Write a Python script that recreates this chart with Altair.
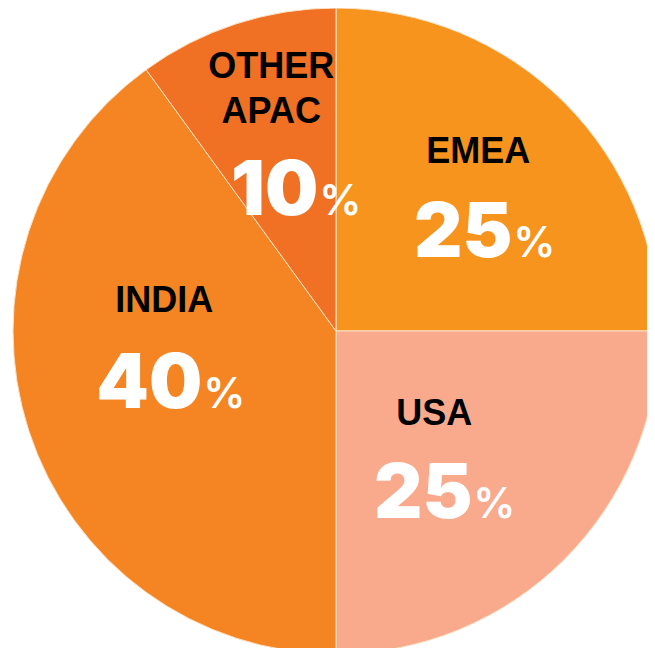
import altair as alt
import pandas as pd

categories = ["EMEA", "USA", "INDIA", "OTHER APAC"]
label_text = ["EMEA", "USA", "INDIA", "OTHER\nAPAC"]
shares = [25, 25, 40, 10]
share_text = ["25", "25", "40", "10"]
colors = ["#F7941E", "#F9AA8D", "#F48522", "#F07124"]

df = pd.DataFrame({
    "category": categories,
    "label": label_text,
    "share": shares,
    "num": share_text,
    "pct": ["%"] * len(categories),
    "idx": list(range(len(categories))),
})

CX, CY, R = 328, 323, 323
LR = 190  # anchor radius for labels

label_off = {"EMEA": (8, -34), "USA": (-36, -40), "INDIA": (9, -78), "OTHER APAC": (-6, -72)}
num_off = {"EMEA": (42, 60), "USA": (2, 53), "INDIA": (47, 18), "OTHER APAC": (41, 65)}


def off_expr(d, i, extra=0):
    s = "0"
    for k, v in reversed(list(d.items())):
        s = f"datum.category == '{k}' ? {v[i] + extra} : ({s})"
    return alt.expr(s)


theta = alt.Theta("share:Q", stack=True)
order = alt.Order("idx:Q")
color = alt.Color("category:N", scale=alt.Scale(domain=categories, range=colors), legend=None)

base = alt.Chart(df)

pie = base.mark_arc(radius=R, stroke="#FCE2C6", strokeWidth=1).encode(
    theta=theta, order=order, color=color,
    x=alt.value(CX), y=alt.value(CY),
)

labels = base.mark_text(
    radius=LR, font="Liberation Sans", fontWeight="bold", fontSize=36,
    color="#000000", align="center", baseline="alphabetic",
    lineBreak="\n", lineHeight=45,
    dx=off_expr(label_off, 0), dy=off_expr(label_off, 1),
).encode(theta=theta, order=order, text="label:N", x=alt.value(CX), y=alt.value(CY))

nums = base.mark_text(
    radius=LR, font="Inter", fontWeight=900, fontSize=75,
    color="#FFFFFF", align="right", baseline="alphabetic",
    dx=off_expr(num_off, 0), dy=off_expr(num_off, 1),
).encode(theta=theta, order=order, text="num:N", x=alt.value(CX), y=alt.value(CY))

pcts = base.mark_text(
    radius=LR, font="Inter", fontWeight=600, fontSize=42,
    color="#FFFFFF", align="left", baseline="alphabetic",
    dx=off_expr(num_off, 0, 1), dy=off_expr(num_off, 1),
).encode(theta=theta, order=order, text="pct:N", x=alt.value(CX), y=alt.value(CY))

chart = alt.layer(pie, labels, nums, pcts).properties(
    width=639, height=640,
    autosize=alt.AutoSizeParams(type="none"),
    padding=0,
    background="#FFFFFF",
).configure_view(stroke=None)

chart.save("out.html", embed_options={"renderer": "svg", "actions": False})
